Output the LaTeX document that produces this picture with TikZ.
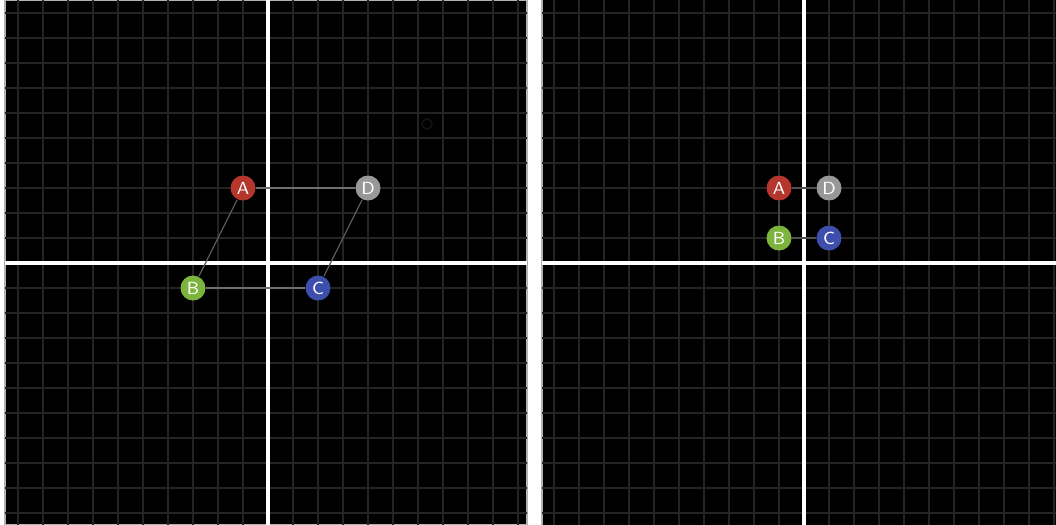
\documentclass[tikz,border=0pt]{standalone}
\usepackage{xcolor}
\usetikzlibrary{positioning}

\definecolor{gridline}{HTML}{242424}
\definecolor{ptred}{HTML}{B5362C}
\definecolor{ptgreen}{HTML}{7CB43E}
\definecolor{ptblue}{HTML}{3E4EAD}
\definecolor{ptgray}{HTML}{989898}
\definecolor{edgegray}{HTML}{707070}

\begin{document}
\begin{tikzpicture}[
    pt/.style={circle, minimum size=0.25cm, inner sep=0pt, text=white,
               font=\sffamily\fontsize{5}{5}\selectfont},
    edge/.style={draw=edgegray, line width=0.35pt},
    axis/.style={white, line width=0.9pt},
    panel/.style={fill=black, draw=gray!60, line width=0.4pt}
]
    \useasboundingbox[fill=white] (0,0) rectangle (10.56,5.24);

    % =================================================================
    % LEFT PANEL: parallelogram ABCD
    % =================================================================
    \begin{scope}[xshift=2.68cm, yshift=2.61cm]
        \draw[panel] (-2.63,-2.62) rectangle (2.59,2.63);
        \begin{scope}
            \clip (-2.63,-2.62) rectangle (2.59,2.63);
            % grid
            \foreach \k in {-11,...,11} {
                \draw[gridline, line width=0.45pt] (\k*0.25,-2.7) -- (\k*0.25,2.7);
                \draw[gridline, line width=0.45pt] (-2.7,\k*0.25) -- (2.7,\k*0.25);
            }
            % faint ghost mark
            \draw[black!92!white, line width=0.4pt] (1.59,1.39) circle (0.05);
        \end{scope}

        % axes
        \draw[axis] (-2.63,0) -- (2.59,0);
        \draw[axis] (0,-2.62) -- (0,2.63);

        % points
        \node[pt, fill=ptred]   (A) at (-0.25,0.75)  {A};
        \node[pt, fill=ptgreen] (B) at (-0.75,-0.25) {B};
        \node[pt, fill=ptblue]  (C) at (0.50,-0.25)  {C};
        \node[pt, fill=ptgray]  (D) at (1.00,0.75)   {D};

        \draw[edge] (A) -- (D);
        \draw[edge] (B) -- (C);
        \draw[edge, draw=edgegray!80!black] (A) -- (B);
        \draw[edge, draw=edgegray!80!black] (D) -- (C);
    \end{scope}

    % =================================================================
    % RIGHT PANEL: square ABCD
    % =================================================================
    \begin{scope}[xshift=8.04cm, yshift=2.61cm]
        \fill[black] (-2.62,-2.62) rectangle (2.53,2.64);
        \draw[gray!60, line width=0.4pt] (-2.62,-2.62) -- (-2.62,2.64);
        \begin{scope}
            \clip (-2.62,-2.62) rectangle (2.53,2.64);
            % grid
            \foreach \k in {-11,...,11} {
                \draw[gridline, line width=0.45pt] (\k*0.25,-2.7) -- (\k*0.25,2.7);
                \draw[gridline, line width=0.45pt] (-2.7,\k*0.25) -- (2.7,\k*0.25);
            }
        \end{scope}

        % axes
        \draw[axis] (-2.62,0) -- (2.53,0);
        \draw[axis] (0,-2.62) -- (0,2.64);

        % points
        \node[pt, fill=ptred]   (A2) at (-0.25,0.75) {A};
        \node[pt, fill=ptgreen] (B2) at (-0.25,0.25) {B};
        \node[pt, fill=ptblue]  (C2) at (0.25,0.25)  {C};
        \node[pt, fill=ptgray]  (D2) at (0.25,0.75)  {D};

        \draw[edge, draw=edgegray!70!black] (A2) -- (D2);
        \draw[edge, draw=edgegray!70!black] (B2) -- (C2);
        \draw[edge, draw=edgegray!60!black] (A2) -- (B2);
        \draw[edge, draw=edgegray!60!black] (D2) -- (C2);
    \end{scope}
\end{tikzpicture}
\end{document}
